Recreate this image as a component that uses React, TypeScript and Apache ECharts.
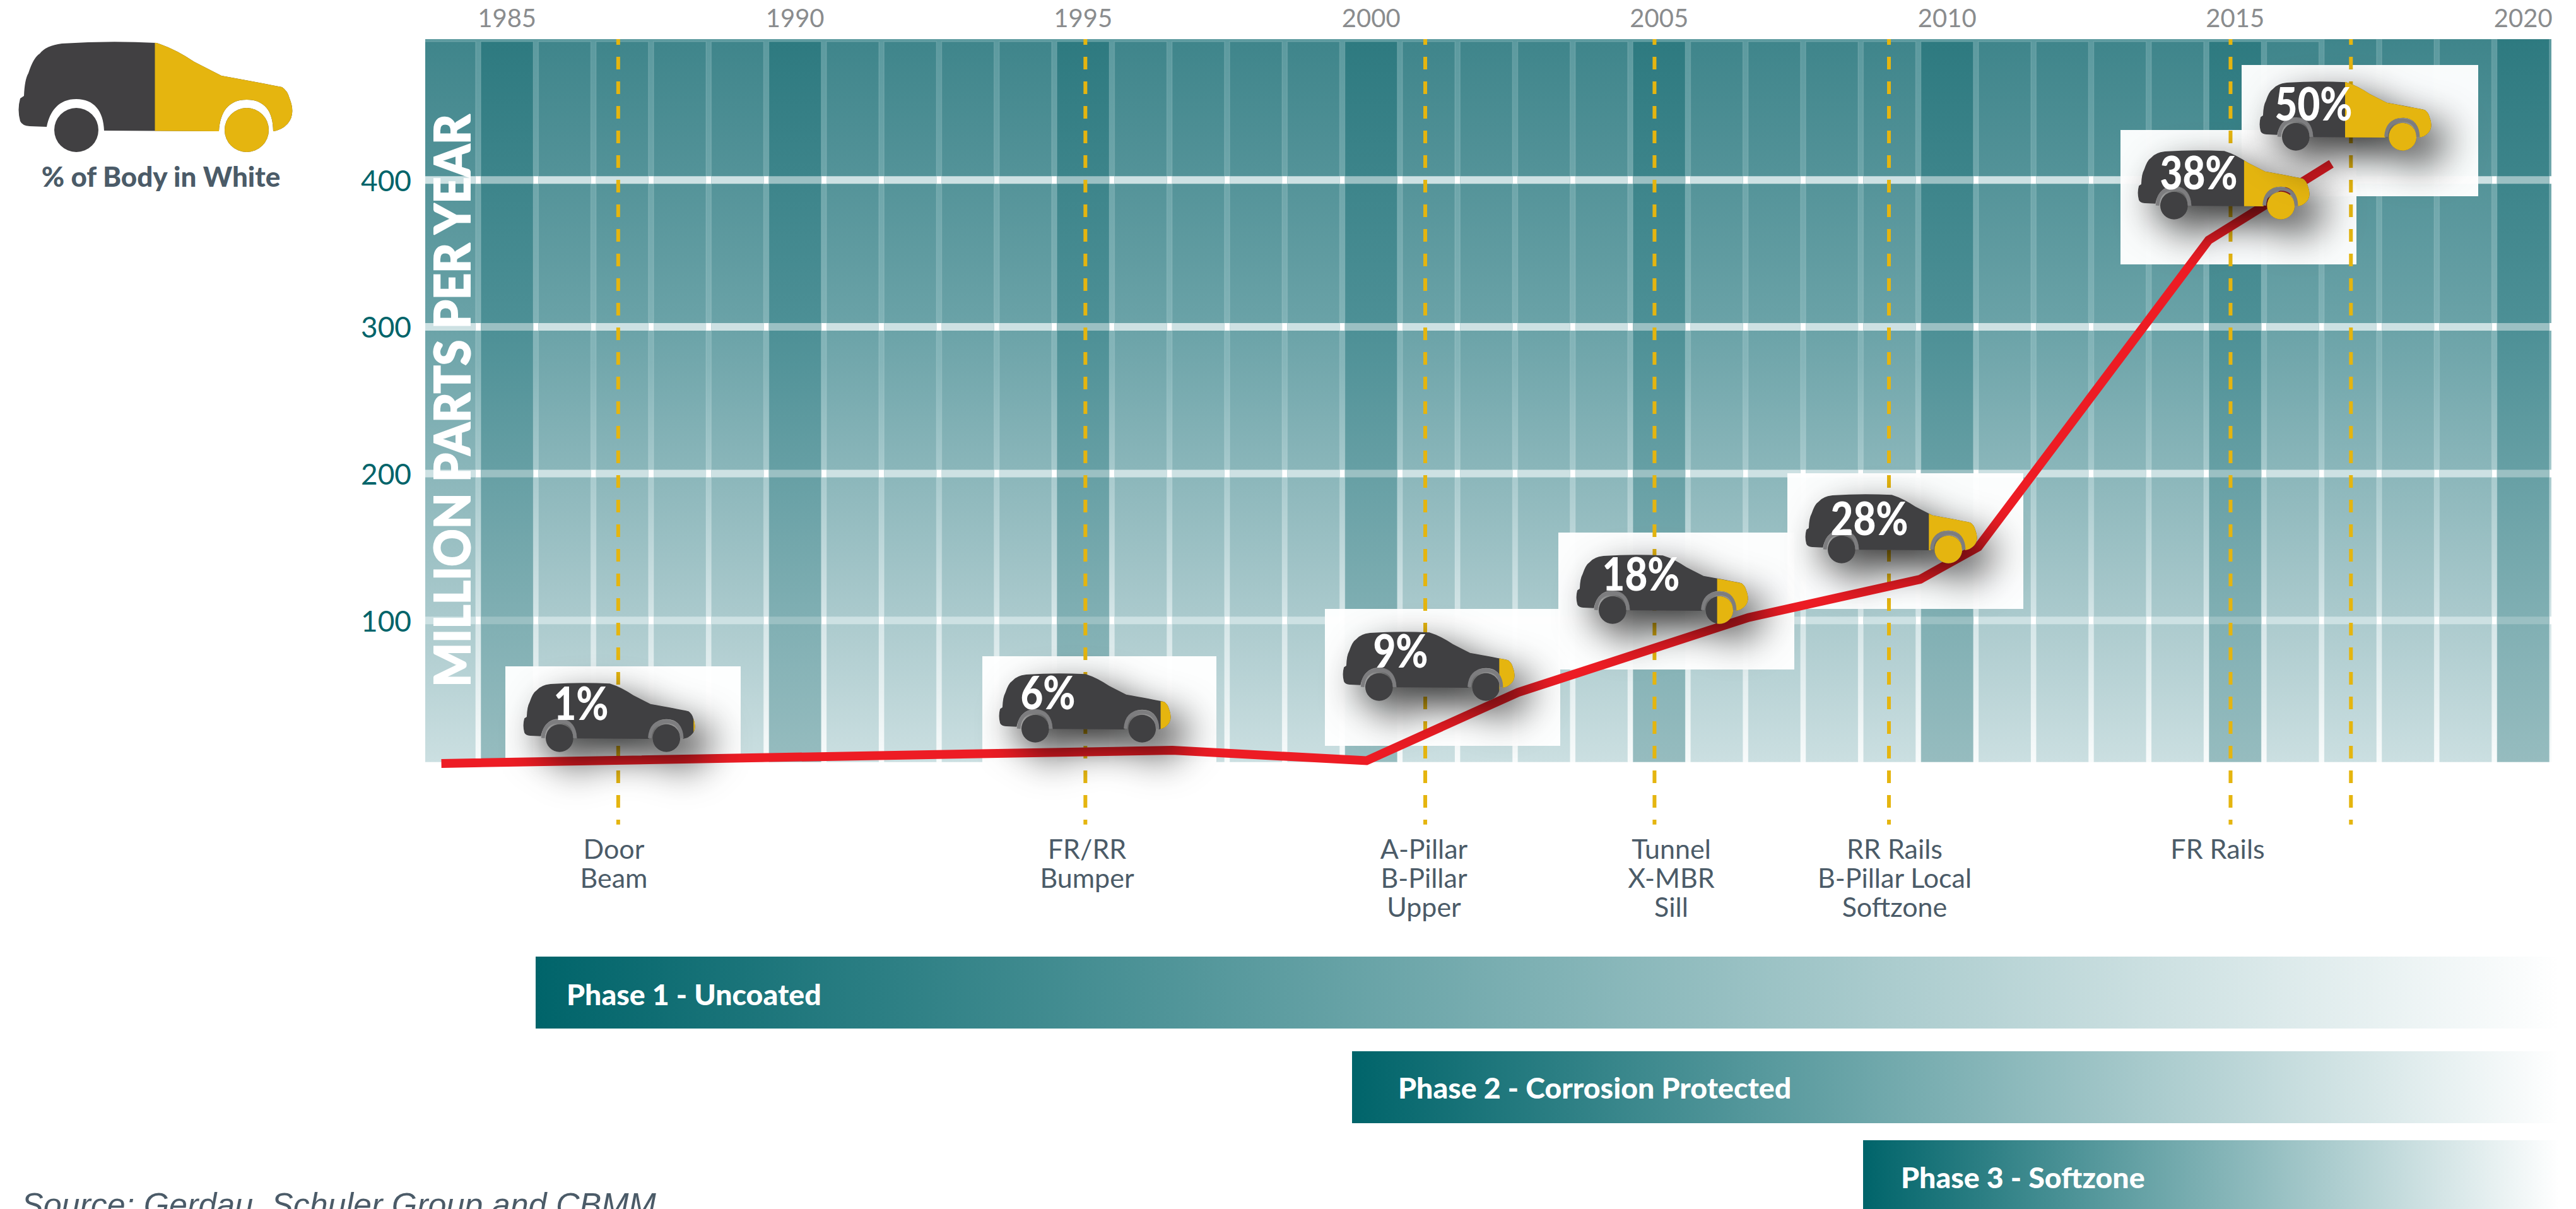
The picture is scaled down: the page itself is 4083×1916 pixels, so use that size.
import React, { useEffect, useRef } from "react";
import * as echarts from "echarts";

// Hot-stamped parts output per year, with the share of the body in white per milestone.
const years = Array.from({ length: 37 }, (_, i) => 1984 + i);
const yearLabels = [1985, 1990, 1995, 2000, 2005, 2010, 2015, 2020];
const valueLabels = [100, 200, 300, 400];
const productionYears = [1983.86, 1996.55, 1999.92, 2002.55, 2006.55, 2009.53, 2010.54, 2014.54, 2016.67];
const productionValues = [2.6, 11.6, 4.5, 51, 102, 128, 150, 359, 411];
const milestoneYears = [1986.93, 1995.04, 2000.94, 2004.92, 2008.99, 2014.92, 2017.01];
const bodyShares = [1, 6, 9, 18, 28, 38, 50];
const milestoneParts = [
  ["Door", "Beam"],
  ["FR/RR", "Bumper"],
  ["A-Pillar", "B-Pillar", "Upper"],
  ["Tunnel", "X-MBR", "Sill"],
  ["RR Rails", "B-Pillar Local", "Softzone"],
  ["FR Rails"],
];
const phaseNames = ["Phase 1 - Uncoated", "Phase 2 - Corrosion Protected", "Phase 3 - Softzone"];

// Layout, in page pixels
const GRID = { left: 674, right: 39, top: 62, bottom: 700 };
const Y_MIN = 0;
const Y_MAX = 495.9;
const Y_BASE = 3.5;
const Y_DASH_END = -39;
const COLUMN_WIDTH = 83;
const RULE_HEIGHT = 12;
const CAR_W = 437;
const CAR_H = 175;
const CAR_SCALE = 0.627;
const cardRects = [
  [801, 1056, 373, 215],
  [1557, 1040, 371, 210],
  [2100, 965, 373, 217],
  [2470, 844, 374, 217],
  [2833, 750, 374, 215],
  [3361, 206, 374, 213],
  [3553, 103, 375, 208],
];
const carOrigins = [
  [828, 1082],
  [1582, 1067],
  [2127, 1001],
  [2497, 879],
  [2860, 783],
  [3387, 238],
  [3580, 129],
];
const shareTextCentres = [
  [921, 1113],
  [1661, 1096],
  [2220, 1030],
  [2601, 908],
  [2963, 820],
  [3485, 272],
  [3667, 163],
];
const partLabelCentres = [973, 1723, 2257, 2649, 3003, 3515];
const phaseBars = [
  [849, 1516, 3208, 114, 898, 1575],
  [2143, 1666, 1914, 114, 2216, 1723],
  [2953, 1807, 1104, 114, 3013, 1865],
];

const TEAL = "#00646a";
const SLATE = "#4b5b68";
const GOLD = "#e5b50f";
const CHARCOAL = "#414042";
const FONT = "Lato";

// Car silhouette with two open wheel arches and the two wheels
const CAR_PATH =
  "M71 3 Q146 -2 221 2 Q250 11 281 32 L324 54 Q390 66 420 72 Q429 78 432 90 Q442 115 429 130 " +
  "Q420 140 406 142 C406 110 392 92 364 92 C336 92 322 110 320 142 L138 141 C137 110 122 91 94 91 " +
  "C66 91 52 110 47 135 L20 134 Q8 133 5 126 Q0 108 5 90 L11 86 Q12 60 18 50 Q26 25 36 19 Q46 6 71 3 Z " +
  "M59 140 A35 35 0 1 0 129 140 A35 35 0 1 0 59 140 Z " +
  "M329 140 A35 35 0 1 0 399 140 A35 35 0 1 0 329 140 Z";
const ARCH_PATH =
  "M52 140 C54 112 68 97 94 97 C120 97 132 114 133 140 M322 140 C324 112 338 98 364 98 C390 98 402 114 403 140";

const vertical = (stops: [number, string][]) =>
  new echarts.graphic.LinearGradient(0, 0, 0, 1, stops.map(([offset, color]) => ({ offset, color })));
const horizontal = (from: string, to: string) =>
  new echarts.graphic.LinearGradient(0, 0, 1, 0, [
    { offset: 0, color: from },
    { offset: 1, color: to },
  ]);

const GAP_FILL = () => vertical([[0, "#5c9a9f"], [0.45, "#86b6ba"], [0.8, "#d4e5e7"], [1, "#f8fbfb"]]);
const COLUMN_FILL = () => vertical([[0, "#3f858b"], [0.4, "#6ba3a8"], [0.8, "#abcacd"], [1, "#cbdfe1"]]);
const LUSTRE_FILL = () => vertical([[0, "#2e7a80"], [0.4, "#4d9096"], [0.8, "#80afb3"], [1, "#96bcbf"]]);
const isLustreYear = (year: number) => year % 5 === 0;

function carElement(share: number, x: number, y: number, scale: number, withShadow: boolean) {
  const splitX = CAR_W * (1 - share / 100);
  return {
    type: "group",
    x,
    y,
    scaleX: scale,
    scaleY: scale,
    children: [
      {
        type: "path",
        shape: { pathData: CAR_PATH },
        style: withShadow
          ? { fill: CHARCOAL, shadowBlur: 60, shadowColor: "rgba(0,0,0,0.82)", shadowOffsetX: 26, shadowOffsetY: 26 }
          : { fill: CHARCOAL },
      },
      {
        type: "path",
        shape: { pathData: CAR_PATH },
        style: { fill: GOLD },
        clipPath: { type: "rect", shape: { x: splitX, y: -10, width: CAR_W - splitX + 20, height: CAR_H + 20 } },
      },
      ...(withShadow
        ? [{ type: "path", shape: { pathData: ARCH_PATH }, style: { fill: "none", stroke: "#7d7d7f", lineWidth: 9 } }]
        : []),
    ],
  };
}

function buildOption() {
  return {
    animation: false,
    backgroundColor: "#ffffff",
    grid: { left: GRID.left, right: GRID.right, top: GRID.top, bottom: GRID.bottom },
    xAxis: {
      type: "value",
      position: "top",
      min: 1983.58,
      max: 2020.49,
      axisLine: { show: false },
      axisTick: { show: false },
      splitLine: { show: false },
      axisLabel: {
        customValues: yearLabels,
        formatter: (v: number) => String(v),
        color: "#8a8c8e",
        fontFamily: FONT,
        fontSize: 40,
        margin: 14,
      },
    },
    yAxis: {
      type: "value",
      min: Y_MIN,
      max: Y_MAX,
      axisLine: { show: false },
      axisTick: { show: false },
      splitLine: { show: false },
      axisLabel: {
        customValues: valueLabels,
        color: TEAL,
        fontFamily: FONT,
        fontSize: 46,
        margin: 22,
      },
    },
    series: [
      {
        name: "Plot backdrop",
        type: "custom",
        coordinateSystem: "cartesian2d",
        z: 1,
        clip: true,
        silent: true,
        data: [[1983.58, Y_BASE]],
        encode: { x: 0, y: 1 },
        renderItem: (_p: unknown, api: any) => {
          const lt = api.coord([1983.58, Y_MAX]);
          const rb = api.coord([2020.49, Y_BASE]);
          return {
            type: "rect",
            shape: { x: lt[0], y: lt[1], width: rb[0] - lt[0], height: rb[1] - lt[1] },
            style: { fill: GAP_FILL() },
          };
        },
      },
      {
        name: "Gridlines",
        type: "custom",
        coordinateSystem: "cartesian2d",
        z: 1,
        clip: true,
        silent: true,
        data: valueLabels.map((v) => [1983.58, v]),
        encode: { x: 0, y: 1 },
        renderItem: (_p: unknown, api: any) => {
          const lt = api.coord([1983.58, api.value(1)]);
          const rb = api.coord([2020.49, api.value(1)]);
          return {
            type: "rect",
            shape: { x: lt[0], y: lt[1] - RULE_HEIGHT / 2, width: rb[0] - lt[0], height: RULE_HEIGHT },
            style: { fill: "#ffffff" },
          };
        },
      },
      {
        name: "Year columns",
        type: "custom",
        coordinateSystem: "cartesian2d",
        z: 1,
        clip: true,
        silent: true,
        data: years.map((y) => [y, Y_MAX]),
        encode: { x: 0, y: 1 },
        renderItem: (_p: unknown, api: any) => {
          const year = api.value(0);
          const lustre = isLustreYear(year);
          const top = api.coord([year, Y_MAX])[1] + (year >= 2017 ? 0 : 4);
          const bottom = api.coord([year, Y_BASE])[1];
          const cx = api.coord([year, 0])[0];
          const left = cx - COLUMN_WIDTH / 2;
          return {
            type: "group",
            children: [
              {
                type: "rect",
                shape: { x: left, y: top, width: COLUMN_WIDTH, height: bottom - top },
                style: {
                  fill: lustre ? LUSTRE_FILL() : COLUMN_FILL(),
                  stroke: "rgba(255,255,255,0.12)",
                  lineWidth: 1.5,
                },
              },
              ...valueLabels.map((v) => ({
                type: "rect",
                shape: {
                  x: left,
                  y: api.coord([year, v])[1] - RULE_HEIGHT / 2,
                  width: COLUMN_WIDTH,
                  height: RULE_HEIGHT,
                },
                style: { fill: lustre ? "#9bc0c3" : "#cde1e3" },
              })),
            ],
          };
        },
      },
      {
        name: "Axis title",
        type: "custom",
        coordinateSystem: "cartesian2d",
        z: 2,
        clip: false,
        silent: true,
        data: [[1984, 250]],
        encode: { x: 0, y: 1 },
        renderItem: () => ({
          type: "text",
          x: 714,
          y: 635,
          rotation: Math.PI / 2,
          scaleX: 0.93,
          style: {
            text: "MILLION PARTS PER YEAR",
            x: 0,
            y: 0,
            align: "center",
            verticalAlign: "middle",
            fill: "#ffffff",
            stroke: "#ffffff",
            lineWidth: 2,
            fontFamily: FONT,
            fontWeight: 900,
            fontSize: 79,
          },
        }),
      },
      {
        name: "Milestone cards",
        type: "custom",
        coordinateSystem: "cartesian2d",
        z: 3,
        clip: false,
        silent: true,
        data: bodyShares.map((s, i) => [milestoneYears[i], s]),
        encode: { x: 0 },
        renderItem: (p: any) => {
          const [x, y, width, height] = cardRects[p.dataIndex];
          return { type: "rect", shape: { x, y, width, height }, style: { fill: "rgba(255,255,255,0.97)" } };
        },
      },
      {
        name: "Milestones",
        type: "custom",
        coordinateSystem: "cartesian2d",
        z: 4,
        clip: false,
        silent: true,
        data: milestoneYears.map((y) => [y, Y_MAX]),
        encode: { x: 0, y: 1 },
        renderItem: (_p: unknown, api: any) => {
          const a = api.coord([api.value(0), Y_MAX]);
          const b = api.coord([api.value(0), Y_DASH_END]);
          return {
            type: "line",
            shape: { x1: a[0], y1: a[1], x2: b[0], y2: b[1] },
            style: { stroke: GOLD, lineWidth: 6, lineDash: [20, 19], lineDashOffset: 11 },
          };
        },
      },
      {
        name: "Million parts per year",
        type: "line",
        z: 5,
        clip: false,
        silent: true,
        symbol: "none",
        data: productionYears.map((y, i) => [y, productionValues[i]]),
        lineStyle: { color: "#ed1c24", width: 14, cap: "butt", join: "miter" },
      },
      {
        name: "Body in white share",
        type: "custom",
        coordinateSystem: "cartesian2d",
        z: 6,
        clip: false,
        silent: true,
        data: bodyShares.map((s, i) => [milestoneYears[i], s]),
        encode: { x: 0 },
        renderItem: (p: any, api: any) => {
          const share = api.value(1);
          const [x, y] = carOrigins[p.dataIndex];
          const [tx, ty] = shareTextCentres[p.dataIndex];
          return {
            type: "group",
            children: [
              carElement(share, x, y, CAR_SCALE, true),
              {
                type: "text",
                x: tx,
                y: ty,
                scaleX: 0.86,
                style: {
                  text: `${share}%`,
                  x: 0,
                  y: 0,
                  align: "center",
                  verticalAlign: "middle",
                  fill: "#ffffff",
                  fontFamily: FONT,
                  fontWeight: 900,
                  fontSize: 72,
                },
              },
            ],
          };
        },
      },
      {
        name: "Legend car",
        type: "custom",
        coordinateSystem: "cartesian2d",
        z: 6,
        clip: false,
        silent: true,
        data: [[1985, 50]],
        encode: { x: 0 },
        renderItem: (_p: unknown, api: any) => carElement(api.value(1), 27, 66, 1, false),
      },
    ],
    graphic: {
      elements: [
        {
          type: "text",
          style: {
            text: "% of Body in White",
            x: 255,
            y: 279,
            align: "center",
            verticalAlign: "middle",
            fill: SLATE,
            fontFamily: FONT,
            fontWeight: 900,
            fontSize: 44,
          },
        },
        ...milestoneParts.flatMap((lines, i) =>
          lines.map((line, j) => ({
            type: "text",
            style: {
              text: line,
              x: partLabelCentres[i],
              y: 1344 + j * 46,
              align: "center",
              verticalAlign: "middle",
              fill: SLATE,
              fontFamily: FONT,
              fontSize: 43,
            },
          }))
        ),
        ...phaseBars.flatMap(([x, y, width, height, tx, ty], i) => [
          {
            type: "rect",
            shape: { x, y, width, height },
            style: { fill: horizontal(TEAL, "#ffffff") },
          },
          {
            type: "text",
            style: {
              text: phaseNames[i],
              x: tx,
              y: ty,
              align: "left",
              verticalAlign: "middle",
              fill: "#ffffff",
              fontFamily: FONT,
              fontWeight: 900,
              fontSize: 46.5,
            },
          },
        ]),
        {
          type: "text",
          style: {
            text: "Source: Gerdau, Schuler Group and CBMM",
            x: 34,
            y: 1909,
            align: "left",
            verticalAlign: "middle",
            fill: SLATE,
            fontFamily: "Liberation Sans",
            fontStyle: "italic",
            fontSize: 52,
          },
        },
      ],
    },
  };
}

export default function App() {
  const ref = useRef<HTMLDivElement>(null);
  useEffect(() => {
    const chart = echarts.init(ref.current!, undefined, { renderer: "svg" });
    chart.setOption(buildOption() as any);
    return () => chart.dispose();
  }, []);
  return (
    <div
      ref={ref}
      style={{ position: "fixed", left: 0, top: 0, width: 4083, height: 1916, overflow: "hidden", background: "#fff" }}
    />
  );
}
